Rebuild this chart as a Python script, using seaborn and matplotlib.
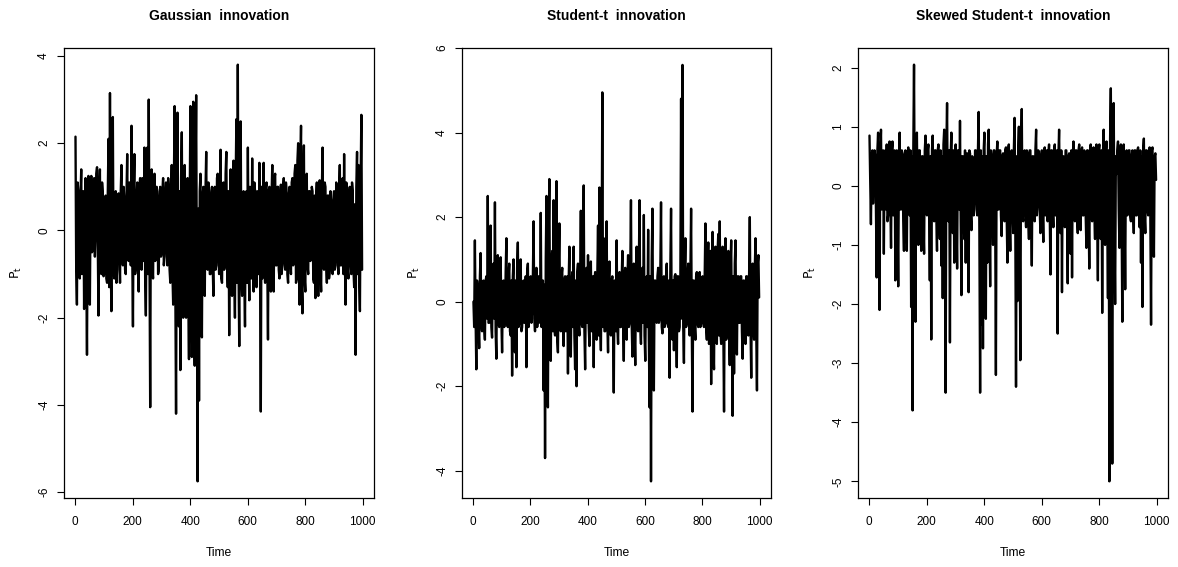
import numpy as np
import pandas as pd
import matplotlib
matplotlib.use("Agg")
import matplotlib.pyplot as plt
import seaborn as sns

gaussian = [
    2.15, -0.9, -1.7, 1.1, 0.9, -0.6, -1.1, 0.8, 1.4, -1.0, -0.6, 0.9, -1.8, 0.4, 1.2, -0.7, -2.85, 0.6, 1.25, -0.8,
    -1.7, 0.7, 1.25, -0.5, -0.4, 1.0, 1.2, -0.6, -0.1, 1.3, 1.45, -0.3, -1.95, 0.8, 1.4, -0.9, -1.0, 1.1, 0.85, -1.05,
    -1.0, 0.6, 0.8, -1.1, -1.2, 0.9, 2.1, -1.3, 3.15, -0.6, -1.85, 1.0, 2.6, -0.9, -1.1, 0.7, 0.9, -1.2, -0.9, 0.6,
    0.85, -0.5, -1.2, 0.9, 1.5, -0.4, -0.8, 1.0, 0.7, -0.9, -1.0, 0.8, 1.75, -0.6, -0.7, 1.1, 1.0, -0.8, 2.4, -0.5,
    -2.2, 0.9, 1.75, -1.0, -0.8, 0.7, 1.1, -0.9, -1.4, 1.0, 1.2, -0.5, -0.9, 1.2, 1.1, -0.7, 1.9, -1.1, -1.95, 0.8,
    1.9, -1.0, 3.0, -0.8, -4.05, 1.1, 1.4, -0.9, -1.1, 0.8, 1.3, -0.7, -0.6, 1.0, 0.9, -1.0, -0.9, 0.7, 1.0, -0.6,
    -0.5, 0.9, 1.2, -0.8, -0.6, 0.8, 1.1, -0.4, -0.8, 1.2, 0.95, -0.9, -1.2, 0.6, 1.5, -1.0, -1.7, 1.1, 2.85, -1.3,
    -4.2, 0.5, 2.7, -1.5, -2.2, 0.9, -3.2, 1.2, 2.25, -1.0, -2.0, 0.8, 1.5, -1.6, -2.0, 1.0, 1.2, -1.4, -2.95, 0.6,
    2.85, -1.2, -2.9, 1.4, 2.95, -1.8, -3.1, 1.0, 3.1, -1.5, -5.75, 0.5, -3.9, 0.9, 1.3, -1.7, -2.45, 0.8, 1.0, -1.3,
    -1.5, 0.9, 1.8, -0.7, -0.9, 1.1, 0.9, -1.0, -1.0, 0.7, 1.0, -0.8, -1.5, 0.6, 1.0, -0.9, -0.8, 1.2, 1.3, -0.6,
    -1.0, 0.9, 1.85, -1.1, -1.2, 0.6, 1.1, -0.9, -0.8, 1.3, 1.8, -0.7, -1.3, 0.9, -2.4, 0.7, 1.4, -1.0, -1.5, 1.0,
    1.6, -0.8, -2.0, 1.1, 2.55, -1.2, 3.8, -0.9, -2.65, 1.3, 2.5, -1.1, -1.5, 0.7, 0.9, -1.0, -2.2, 0.8, 0.9, -1.2,
    1.9, -0.6, -1.6, 1.0, 0.8, -1.1, 1.65, -0.7, -1.4, 1.1, 0.9, -0.8, -1.3, 0.9, 0.7, -1.0, 1.55, -0.9, -4.15, 1.0,
    -1.1, 0.8, 1.55, -0.9, -1.2, 1.0, 1.1, -0.6, -2.5, 0.9, 1.0, -1.1, -1.4, 0.8, 1.5, -0.9, -1.4, 1.2, 1.3, -0.8,
    -0.8, 1.0, 1.0, -0.9, -1.1, 0.7, 1.05, -1.0, -0.8, 0.9, 1.2, -0.7, -0.9, 1.1, 0.85, -1.0, -1.2, 0.8, 1.0, -0.6,
    -1.0, 1.1, 1.2, -0.8, -0.7, 1.3, 1.5, -1.2, -1.1, 1.6, 2.0, -0.9, -1.7, 1.4, 2.4, -1.3, -1.9, 1.0, 1.95, -1.1,
    -1.4, 1.2, 1.3, -0.8, -1.0, 0.9, 0.9, -0.7, -0.6, 1.0, 0.9, -1.1, -1.2, 0.8, -1.55, 0.7, 1.1, -0.9, -1.5, 0.6,
    1.15, -1.0, -1.4, 0.9, 1.9, -0.8, -0.9, 1.1, 1.0, -0.7, -1.2, 0.8, 0.8, -1.1, -0.9, 0.9, 0.6, -0.8, -1.0, 0.7,
    0.9, -0.9, -0.8, 1.1, 1.0, -0.6, -1.0, 0.9, 1.5, -0.8, -0.8, 1.0, 1.2, -1.0, 1.75, -0.6, -1.7, 1.1, 1.0, -0.9,
    -1.1, 0.8, 1.0, -0.7, -1.0, 1.1, 0.9, -0.9, -1.3, 0.6, -2.85, 1.0, 1.8, -1.0, 1.5, -1.2, -1.85, 1.1, 2.65, -0.9,
]

student_t = [
    0.0, -0.6, 1.45, -0.4, -1.6, 0.5, 0.3, -0.5, -1.1, 0.6, 1.15, -0.5, -0.7, 0.4, 0.5, -0.6, -0.9, 0.5, 0.6, -0.4,
    2.5, -0.5, -0.5, 0.8, 1.8, -0.6, -0.85, 0.7, 0.9, -0.4, 2.35, -0.7, -1.35, 0.9, 1.1, -0.5, -0.6, 0.7, 1.05, -0.4,
    -1.2, 0.4, 0.5, -0.6, -0.4, 0.7, 1.5, -0.5, -0.6, 0.6, 0.9, -0.7, -0.8, 0.5, -1.75, 0.6, 1.0, -0.9, -1.2, 0.5,
    -1.55, 0.8, 1.4, -0.6, -0.5, 0.6, 1.0, -0.7, -0.6, 0.4, 0.5, -0.5, -0.4, 0.6, -1.55, 0.7, 0.9, -0.6, -0.3, 0.5,
    0.6, -0.5, -0.2, 0.6, 1.9, -0.4, -0.7, 0.5, 0.8, -0.6, -0.4, 0.6, 0.5, -0.5, 2.1, -0.6, -0.3, 0.5, -2.1, 0.4,
    -3.7, 1.0, 2.5, -1.2, -2.5, 1.5, 2.9, -0.8, -1.4, 0.9, 1.2, -0.7, 2.4, -0.6, -0.8, 1.0, 2.85, -0.9, -1.2, 0.8,
    1.85, -0.5, -0.7, 0.6, 0.8, -0.6, -1.05, 0.5, 0.6, -0.7, -0.5, 0.6, -1.7, 0.5, 1.3, -0.6, -1.3, 0.4, 0.7, -0.6,
    1.3, -0.8, -1.6, 0.5, -2.0, 0.7, 0.9, -0.6, -0.8, 0.5, 2.15, -0.5, -0.6, 0.8, 2.75, -0.7, -1.6, 0.5, 0.8, -0.5,
    1.1, -0.6, -1.05, 0.5, 0.95, -0.7, -0.6, 0.6, -1.55, 0.5, 0.7, -0.6, -0.9, 0.6, 1.8, -0.8, 2.7, -0.5, -1.15, 0.8,
    4.95, -0.6, 1.5, -0.7, -0.7, 0.6, 1.9, -0.5, -1.2, 0.6, 0.95, -0.6, -0.8, 0.5, 0.6, -0.6, -2.15, 0.5, 0.4, -0.7,
    1.45, -0.6, -1.0, 0.5, 0.7, -0.6, -0.6, 0.5, 1.2, -0.5, -1.4, 0.6, 0.8, -0.6, -0.9, 0.5, 1.1, -0.6, -0.5, 0.7,
    2.4, -0.5, -1.3, 0.6, 0.9, -0.7, -1.5, 0.5, 1.3, -0.6, -0.7, 0.8, 2.4, -0.6, -1.0, 0.6, 0.8, -0.5, 2.05, -0.8,
    -1.4, 0.5, 0.6, -0.6, 1.7, -0.9, -2.5, 0.6, -4.25, 1.0, 2.2, -1.2, -2.1, 0.5, 0.5, -0.4, -0.5, 0.6, 0.8, -0.5,
    -0.4, 0.7, 2.35, -0.6, -0.75, 0.5, 0.6, -0.6, -0.5, 0.6, 0.9, -0.5, -0.6, 0.5, -1.8, 0.8, 2.2, -0.6, -0.9, 0.5,
    -1.15, 0.6, 0.65, -0.5, -1.55, 0.6, 0.6, -0.7, -0.6, 0.5, 4.8, -0.4, 5.6, -0.6, -1.45, 0.7, 1.5, -0.6, -0.5, 0.6,
    0.9, -0.5, -0.8, 0.6, 2.2, -0.7, -2.6, 0.5, 0.5, -0.6, -0.9, 0.6, 0.7, -0.5, -0.6, 0.6, 0.7, -0.6, -0.5, 0.5,
    0.6, -0.5, -0.6, 0.7, 1.85, -0.6, -0.9, 0.8, 1.4, -1.0, -0.8, 1.2, -1.95, 0.9, 1.65, -1.1, -1.6, 1.0, 1.3, -0.9,
    -1.0, 1.2, 1.6, -0.8, 1.9, -0.7, -1.0, 0.9, 1.3, -0.8, -2.6, 0.7, 1.5, -0.9, -0.8, 0.6, 1.2, -0.7, -1.5, 0.8,
    1.45, -0.9, -2.7, 0.6, -1.7, 0.9, 1.45, -0.6, -1.25, 0.6, 0.6, -0.5, -0.5, 0.6, 0.6, -0.7, -1.35, 0.5, 0.5, -0.6,
    -1.0, 0.6, 0.6, -0.5, -0.8, 0.7, 2.0, -0.6, -1.8, 0.8, 0.9, -0.6, -0.9, 0.8, 1.5, -0.7, -2.1, 0.9, 1.1, 0.1,
]

skewed_t = [
    0.85, 0.1, -0.65, 0.5, 0.6, -0.3, 0.2, 0.6, 0.5, -0.4, -1.55, 0.6, 0.9, -0.5, -2.1, 0.5, 0.95, -0.4, 0.3, 0.6,
    -1.15, 0.5, 0.6, -0.4, 0.7, -0.6, -0.5, 0.6, 0.75, -0.3, -1.05, 0.6, 0.75, -0.5, 0.3, 0.6, -1.6, 0.4, 0.6, -0.5,
    -1.7, 0.5, 0.9, -0.4, -0.4, 0.6, 0.55, -0.6, -1.1, 0.5, 0.6, -0.5, -1.1, 0.5, 0.65, -0.4, -0.5, 0.6, -2.05, 0.5,
    -3.8, 0.6, 2.05, -0.5, -2.3, 0.7, 0.9, -0.4, -1.0, 0.6, 0.6, -0.5, -1.1, 0.5, 0.5, -0.6, -1.15, 0.6, 0.85, -0.4,
    -0.5, 0.6, 0.7, -0.5, -1.6, 0.5, -2.6, 0.6, 0.85, -0.4, -0.6, 0.6, 0.6, -0.5, -1.1, 0.6, 0.7, -0.5, -0.9, 0.6,
    -1.35, 0.5, -1.9, 0.7, 0.95, -0.6, -3.5, 0.6, 1.4, -0.5, -0.6, 0.6, -2.65, 0.5, 0.9, -0.4, -0.8, 0.6, -1.3, 0.5,
    0.7, -0.5, -1.4, 0.6, 0.6, -0.4, 1.1, -0.6, -1.85, 0.5, 0.5, -0.5, -0.9, 0.6, -1.3, 0.5, 0.55, -0.4, -1.8, 0.6,
    0.55, -0.5, -0.75, 0.5, 0.4, -0.5, -0.2, 0.6, 0.6, -0.4, -0.5, 0.6, 1.25, -0.8, -3.5, 0.6, -2.35, 0.5, -2.75, 0.6,
    0.9, -0.6, -2.25, 0.5, -1.3, 0.7, 0.95, -0.5, -1.7, 0.6, 0.5, -0.4, -1.0, 0.6, 0.6, -0.5, -3.2, 0.5, 0.75, -0.4,
    -0.4, 0.6, 0.6, -0.5, -0.85, 0.5, 0.55, -0.4, -0.6, 0.6, 0.65, -0.5, -1.3, 0.6, 0.7, -0.5, -1.1, 0.5, 0.6, -0.4,
    -0.8, 0.6, 1.15, -0.6, -3.4, 0.5, -1.95, 0.6, 1.0, -0.5, -2.95, 0.6, 1.3, -0.5, -0.6, 0.5, 0.6, -0.4, -0.7, 0.6,
    0.55, -0.5, -0.9, 0.6, 0.6, -0.4, -1.35, 0.5, 0.5, -0.5, -0.6, 0.6, 0.95, -0.5, -0.3, 0.6, 0.5, -0.4, -0.8, 0.5,
    0.6, -0.4, -0.95, 0.6, 0.65, -0.5, 0.2, 0.6, -0.6, 0.5, 0.7, -0.5, -1.5, 0.6, 0.6, -0.4, -0.7, 0.6, 0.7, -0.5,
    -0.5, 0.6, -2.5, 0.5, 0.95, -0.4, -0.8, 0.6, -1.8, 0.5, 0.5, -0.5, -0.7, 0.6, 0.6, -0.4, -1.65, 0.5, 0.55, -0.5,
    -1.15, 0.6, -1.55, 0.5, 0.75, -0.4, -0.6, 0.6, 0.6, -0.5, -0.8, 0.6, 0.7, -0.4, -0.75, 0.6, 0.65, -0.5, -0.5, 0.6,
    0.5, -0.5, -1.05, 0.6, 0.6, -0.4, -1.4, 0.5, 0.7, -0.5, -0.6, 0.6, 0.65, -0.4, -0.9, 0.6, 0.7, -0.5, -1.6, 0.6,
    0.7, -0.5, -0.9, 0.6, -2.15, 0.5, 0.95, -0.6, -1.0, 0.6, 0.75, -0.5, -1.9, 0.6, -5.0, 0.8, 1.65, -1.0, -4.7, 0.6,
    1.4, -0.8, -2.0, 0.5, 0.2, 0.6, 0.75, -0.4, -1.05, 0.6, 0.7, -0.5, -2.3, 0.6, 0.7, -0.4, -1.75, 0.5, 0.6, -0.5,
    -0.4, 0.6, 0.6, -0.5, -0.6, 0.5, 0.6, -0.4, -0.8, 0.6, 0.6, -0.5, -0.5, 0.6, 0.65, -0.4, -0.7, 0.6, -1.3, 0.5,
    -2.05, 0.6, 0.8, -0.5, -0.8, 0.6, 0.6, -0.4, -0.5, 0.5, 0.65, -0.5, -2.35, 0.6, 0.65, -0.5, -1.2, 0.5, 0.55, 0.1,
]

titles = ["Gaussian  innovation", "Student-t  innovation", "Skewed Student-t  innovation"]
yticks_list = [[-6, -4, -2, 0, 2, 4], [-4, -2, 0, 2, 4, 6], [-5, -4, -3, -2, -1, 0, 1, 2]]
xticks = [0, 200, 400, 600, 800, 1000]

sns.set_style("ticks")
plt.rcParams["font.family"] = ["Liberation Sans", "DejaVu Sans"]
plt.rcParams["axes.unicode_minus"] = False
plt.rcParams["text.color"] = "black"
plt.rcParams["axes.labelcolor"] = "black"

W, H = 1178, 567
fig = plt.figure(figsize=(W / 100, H / 100), dpi=100)
fig.patch.set_facecolor("white")

boxes = [(64, 374), (462, 771), (858, 1168)]
top_px, bot_px = 48, 498

for (l, r), title, series, yt in zip(boxes, titles, [gaussian, student_t, skewed_t], yticks_list):
    ax = fig.add_axes([l / W, (H - bot_px) / H, (r - l) / W, (bot_px - top_px) / H])
    time = [1 + 2.5 * k for k in range(len(series))]
    df = pd.DataFrame({"Time": time, "value": series})
    sns.lineplot(data=df, x="Time", y="value", ax=ax, color="black", linewidth=1.7,
                 estimator=None, sort=False)
    ax.set_xlim(-39, 1040)
    ax.margins(y=0.04)
    ax.set_xticks(xticks)
    ax.set_yticks(yt)
    ax.set_yticklabels([str(v) for v in yt], rotation=90, va="center")
    ax.tick_params(axis="both", direction="out", length=5, width=0.8, colors="black",
                   labelsize=8.5)
    ax.tick_params(axis="x", pad=8)
    ax.tick_params(axis="y", pad=5)
    for s in ax.spines.values():
        s.set_visible(True)
        s.set_color("black")
        s.set_linewidth(0.9)
    ax.set_xlabel("Time", fontsize=8.7, labelpad=14, color="black")
    ax.set_ylabel(r"$\mathrm{P}_{\mathrm{t}}$", fontsize=9, labelpad=10, color="black")
    ax.set_title(title, fontsize=10, fontweight="bold", pad=20, color="black")
    ax.set_facecolor("white")
    ax.grid(False)

fig.savefig("out.png", dpi=100, facecolor="white")
